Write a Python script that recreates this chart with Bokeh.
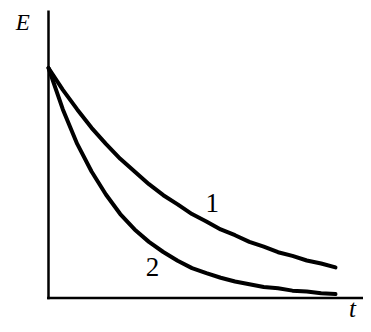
from bokeh.plotting import figure
from bokeh.models import Range1d
from bokeh.core.properties import value
from bokeh.embed import file_html
from bokeh.resources import INLINE

# time samples (arbitrary units) and the two decay curves
t = [0, 0.5, 1, 1.5, 2, 2.5, 3, 3.5, 4, 4.5, 5, 5.5, 6, 6.5, 7, 7.5, 8, 8.5, 9, 9.5, 10]
E1 = [10, 9.05, 8.2, 7.4, 6.7, 6.05, 5.5, 4.95, 4.47, 4.07, 3.65, 3.33, 2.98, 2.73,
      2.44, 2.23, 1.99, 1.83, 1.63, 1.5, 1.33]
E2 = [10, 8.2, 6.7, 5.5, 4.5, 3.65, 2.98, 2.44, 2.0, 1.62, 1.3, 1.08, 0.88, 0.72,
      0.6, 0.48, 0.42, 0.32, 0.28, 0.21, 0.17]

curve_names = ["1", "2"]
curve_label_t = [5.71, 3.62]
curve_label_E = [4.13, 1.33]

axis_names = ["E", "t"]

SERIF = value("Liberation Serif")

p = figure(width=363, height=324, output_backend="svg", toolbar_location=None,
           x_range=Range1d(-1.6725, 10.976), y_range=Range1d(-1.152, 12.935),
           min_border=0, outline_line_color=None)
p.axis.visible = False
p.grid.visible = False
p.background_fill_color = "white"

# axes drawn as lines from the origin
x0, y0 = 0, 0
p.line([x0, x0], [y0 - 0.05, 12.5], line_color="black", line_width=2.5)
p.line([x0 - 0.05, p.x_range.end], [y0, y0], line_color="black", line_width=2.5)

for E in (E1, E2):
    p.line(t, E, line_color="black", line_width=4, line_cap="round", line_join="round")

p.text(x=curve_label_t, y=curve_label_E, text=curve_names,
       text_font=SERIF, text_font_size="27px",
       text_align="center", text_baseline="middle", text_color="black")

p.text(x=[-0.896], y=[11.96], text=[axis_names[0]],
       text_font=SERIF, text_font_style="italic",
       text_font_size="23px", text_align="center", text_baseline="middle",
       text_color="black")
p.text(x=[10.59], y=[-0.46], text=[axis_names[1]],
       text_font=SERIF, text_font_style="italic",
       text_font_size="25px", text_align="center", text_baseline="middle",
       text_color="black")

open("out.html", "w").write(file_html(p, INLINE))
